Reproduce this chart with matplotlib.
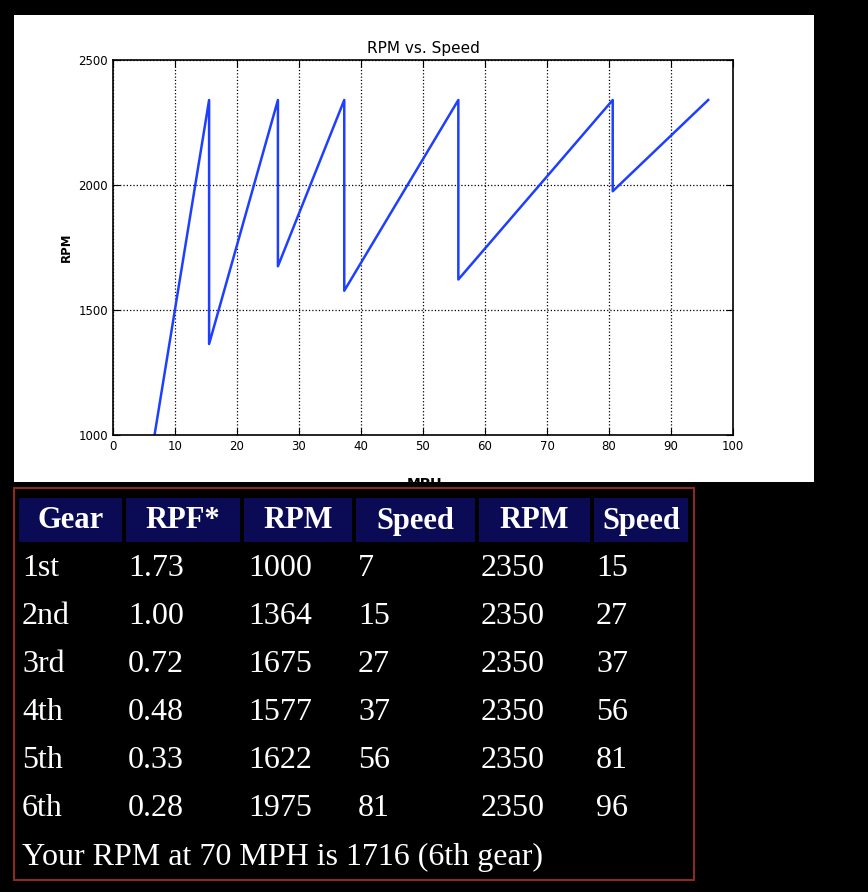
import matplotlib.pyplot as plt
from matplotlib.patches import Rectangle

# chart data
speeds = [6.7, 15.5, 15.5, 26.6, 26.6, 37.3, 37.3, 55.7, 55.7, 80.6, 80.6, 96.0]
rpms = [1000, 2340, 1364, 2340, 1675, 2340, 1577, 2340, 1622, 2340, 1975, 2340]

# table data
headers = ['Gear', 'RPF*', 'RPM', 'Speed', 'RPM', 'Speed']
gears = ['1st', '2nd', '3rd', '4th', '5th', '6th']
rpf = ['1.73', '1.00', '0.72', '0.48', '0.33', '0.28']
rpm_low = ['1000', '1364', '1675', '1577', '1622', '1975']
speed_low = ['7', '15', '27', '37', '56', '81']
rpm_high = ['2350'] * 6
speed_high = ['15', '27', '37', '56', '81', '96']
footer = 'Your RPM at 70 MPH is 1716 (6th gear)'

W, H = 868, 892
fig = plt.figure(figsize=(W / 100, H / 100), dpi=100, facecolor='black')


def fx(x):
    return x / W


def fy(y):
    return 1 - y / H


# white chart panel
fig.patches.append(Rectangle((fx(14), fy(482)), fx(814) - fx(14), fy(15) - fy(482),
                             transform=fig.transFigure, facecolor='white', zorder=0))

ax = fig.add_axes([fx(113), fy(435), fx(733) - fx(113), fy(60) - fy(435)])
ax.set_zorder(2)
ax.plot(speeds, rpms, color='#1f3fff', lw=1.8)
ax.set_xlim(0, 100)
ax.set_ylim(1000, 2500)
ax.set_xticks(range(0, 101, 10))
ax.set_yticks([1000, 1500, 2000, 2500])
ax.grid(True, color='black', linestyle=':', lw=0.9)
ax.tick_params(direction='in', top=True, right=True, labelsize=8.5, length=5)
for s in ax.spines.values():
    s.set_linewidth(1.2)
ax.set_title('RPM vs. Speed', fontsize=11, pad=5)
ax.set_ylabel('RPM', fontsize=8.5, fontweight='bold')
fig.text(fx(425), fy(484), 'MPH', fontsize=10, fontweight='bold', ha='center',
         va='center', zorder=3)
# hide the lower half of the cut-off MPH label
fig.patches.append(Rectangle((0, fy(892)), 1, fy(482) - fy(892),
                             transform=fig.transFigure, facecolor='black', zorder=5))

# table border
fig.patches.append(Rectangle((fx(14), fy(880)), fx(694) - fx(14), fy(488) - fy(880),
                             transform=fig.transFigure, facecolor='none',
                             edgecolor='#8b2a22', lw=1.5, zorder=6))

serif = 'Liberation Serif'
cells = [(19, 122), (126, 240), (244, 352), (356, 475), (479, 590), (594, 688)]
for (x0, x1), h in zip(cells, headers):
    fig.patches.append(Rectangle((fx(x0), fy(542)), fx(x1) - fx(x0), fy(498) - fy(542),
                                 transform=fig.transFigure, facecolor='#0a0a55', zorder=6))
    fig.text(fx((x0 + x1) / 2), fy(521), h, color='white', fontsize=22, fontweight='bold',
             family=serif, ha='center', va='center', zorder=7)

cols = [gears, rpf, rpm_low, speed_low, rpm_high, speed_high]
xs = [22, 128, 248, 358, 481, 596]
for i in range(len(gears)):
    y = 569 + 48 * i
    for x, col in zip(xs, cols):
        fig.text(fx(x), fy(y), col[i], color='white', fontsize=23, family=serif,
                 ha='left', va='center', zorder=7)
fig.text(fx(22), fy(857), footer, color='white', fontsize=23, family=serif,
         ha='left', va='center', zorder=7)

fig.savefig('out.png', dpi=100, facecolor='black')
